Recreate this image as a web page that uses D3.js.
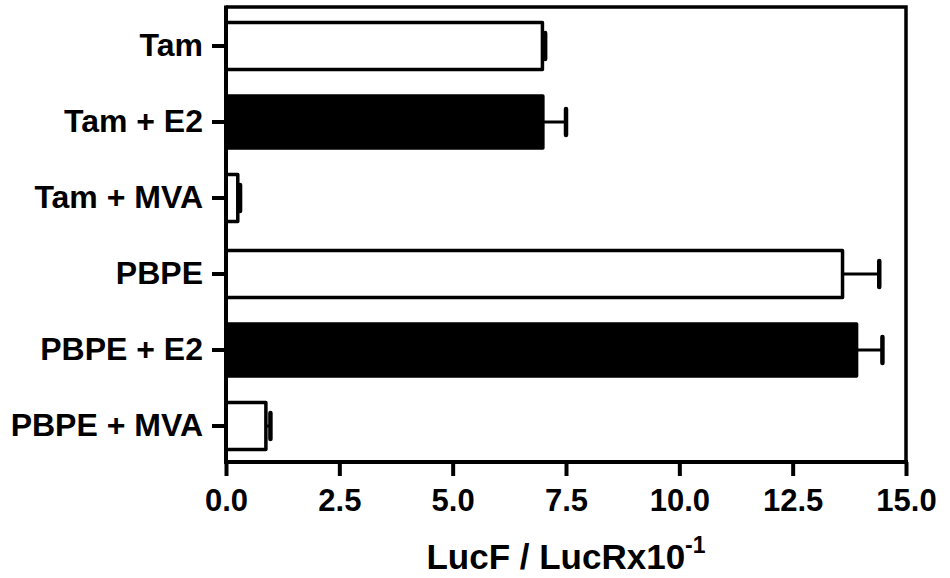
<!DOCTYPE html>
<html>
<head>
<meta charset="utf-8">
<script src="https://cdn.jsdelivr.net/npm/d3@7/dist/d3.min.js"></script>
<style>
  html, body { margin: 0; padding: 0; background: #fff; }
  svg { display: block; }
  text { font-family: "Liberation Sans", Arial, Helvetica, sans-serif; font-weight: bold; fill: #000; }
</style>
</head>
<body>
<svg id="chart" width="950" height="578"></svg>
<script>
const categories = ["Tam", "Tam + E2", "Tam + MVA", "PBPE", "PBPE + E2", "PBPE + MVA"];
const values = [6.98, 6.99, 0.26, 13.60, 13.91, 0.88];
const errors = [0.06, 0.51, 0.05, 0.81, 0.57, 0.10];
const fills = ["white", "black", "white", "white", "black", "white"];
const xTicks = [0, 2.5, 5, 7.5, 10, 12.5, 15];
const xTitle = "LucF / LucRx10";
const xTitleSup = "-1";

const W = 950, H = 578;
const plot = { left: 226, right: 906, top: 7, bottom: 462 };

const svg = d3.select("#chart");
svg.append("rect").attr("width", W).attr("height", H).attr("fill", "#fff");

const x = d3.scaleLinear().domain([0, 15]).range([plot.left, plot.right]);
const y = d3.scaleBand().domain(categories).range([8, 464]).paddingInner(0).paddingOuter(0);

const data = categories.map((c, i) => ({ c, v: values[i], e: errors[i], f: fills[i] }));

// bars
const barH = d => d.f === "black" ? 52 : 47;
svg.append("g").selectAll("rect").data(data).join("rect")
  .attr("x", x(0))
  .attr("y", d => y(d.c) + y.bandwidth() / 2 - barH(d) / 2)
  .attr("width", d => x(d.v) - x(0))
  .attr("height", d => barH(d))
  .attr("fill", d => d.f)
  .attr("stroke", "#000")
  .attr("stroke-width", 3.5)
  .attr("stroke-linejoin", "round");

// error bars
const eb = svg.append("g");
eb.selectAll("line.whisk").data(data).join("line")
  .attr("class", "whisk")
  .attr("x1", d => x(d.v)).attr("x2", d => x(d.v + d.e))
  .attr("y1", d => y(d.c) + y.bandwidth() / 2)
  .attr("y2", d => y(d.c) + y.bandwidth() / 2)
  .attr("stroke", "#000").attr("stroke-width", 3);
eb.selectAll("line.cap").data(data).join("line")
  .attr("class", "cap")
  .attr("x1", d => x(d.v + d.e)).attr("x2", d => x(d.v + d.e))
  .attr("y1", d => y(d.c) + y.bandwidth() / 2 - 13)
  .attr("y2", d => y(d.c) + y.bandwidth() / 2 + 13)
  .attr("stroke", "#000").attr("stroke-width", 4.5).attr("stroke-linecap", "round");

// frame (top and right)
svg.append("path")
  .attr("d", `M${plot.left},${plot.top}H${plot.right}V${plot.bottom}`)
  .attr("fill", "none").attr("stroke", "#000").attr("stroke-width", 3.5);

// y axis
const yAxis = svg.append("g").attr("transform", `translate(${plot.left},0)`)
  .call(d3.axisLeft(y).tickSize(14).tickSizeOuter(0).tickPadding(9));
yAxis.select(".domain").remove();
yAxis.selectAll(".tick line").attr("stroke", "#000").attr("stroke-width", 4);
yAxis.selectAll(".tick text").attr("font-size", 32).style("font-family", null);
yAxis.append("line").attr("x1", 0).attr("x2", 0).attr("y1", plot.top - 1.5).attr("y2", plot.bottom)
  .attr("stroke", "#000").attr("stroke-width", 4);

// x axis
const xAxis = svg.append("g").attr("transform", `translate(0,${plot.bottom})`)
  .call(d3.axisBottom(x).tickValues(xTicks).tickFormat(d3.format(".1f")).tickSize(14).tickSizeOuter(0).tickPadding(13));
xAxis.select(".domain").remove();
xAxis.selectAll(".tick line").attr("stroke", "#000").attr("stroke-width", 4);
xAxis.selectAll(".tick text").attr("font-size", 31).style("font-family", null);
xAxis.append("line").attr("x1", plot.left - 2).attr("x2", plot.right + 2).attr("y1", 0).attr("y2", 0)
  .attr("stroke", "#000").attr("stroke-width", 4);

// x title
const t = svg.append("text")
  .attr("x", (plot.left + plot.right) / 2)
  .attr("y", 569)
  .attr("text-anchor", "middle")
  .attr("font-size", 35);
t.append("tspan").text(xTitle);
t.append("tspan").attr("font-size", 23).attr("dy", -16).text(xTitleSup);
</script>
</body>
</html>
